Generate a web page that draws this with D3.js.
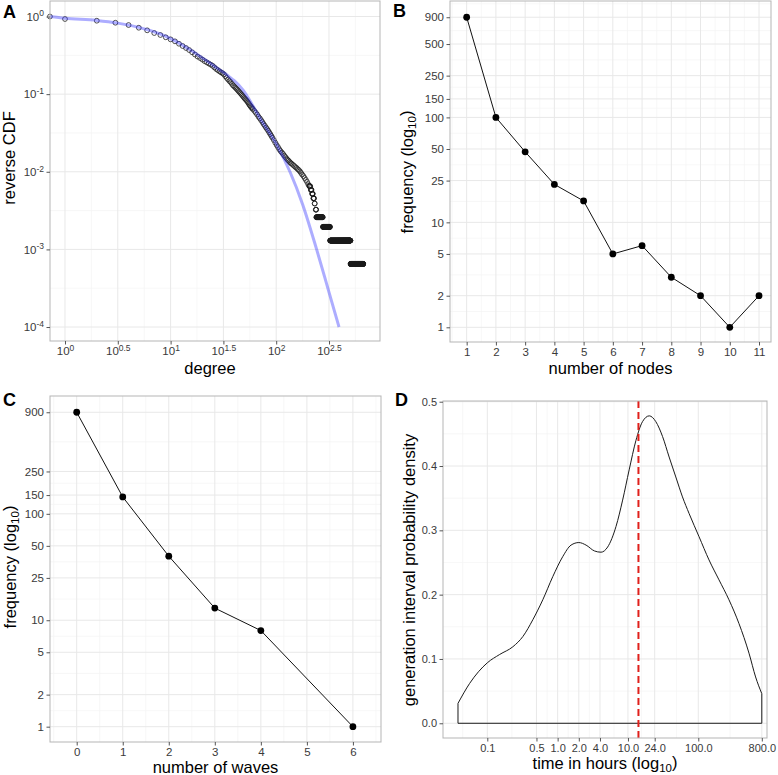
<!DOCTYPE html>
<html>
<head>
<meta charset="utf-8">
<script src="https://cdn.jsdelivr.net/npm/d3@7"></script>
<style>
  body { margin: 0; background: #fff; }
  text { font-family: "Liberation Sans", Arial, Helvetica, sans-serif; }
</style>
</head>
<body>
<div id="fig"></div>
<script>
// ---- panel A: reverse CDF of degree ----
const degK = [0.72, 1, 2, 3, 4, 5, 6, 7, 8, 9, 10, 11, 12, 13, 14, 15, 16,
  17, 18, 19, 20, 21, 22, 23, 24, 25, 26, 27, 28, 29, 30, 31, 32, 33, 34, 35, 36, 37, 38, 39,
  40, 41, 42, 43, 44, 45, 46, 47, 48, 49, 50, 51, 52, 53, 54, 55, 56, 57, 58, 59, 60,
  62, 64, 66, 68, 70, 72, 74, 76, 78, 80, 82, 84, 86, 88, 90, 92, 95, 98, 101, 104, 107, 110,
  113, 116, 119, 122, 125, 128, 131, 134, 137, 140, 144, 148, 152, 156, 160, 164, 168, 172,
  176, 181, 186, 191, 196, 201, 205];
const revCdf = [1.0, 0.929, 0.883, 0.832, 0.777, 0.717, 0.664, 0.613, 0.578, 0.54, 0.508, 0.479, 0.446, 0.417, 0.393, 0.37, 0.346,
  0.324, 0.305, 0.292, 0.279, 0.266, 0.257, 0.248, 0.240, 0.232, 0.221, 0.211, 0.204, 0.197, 0.191, 0.186, 0.180, 0.170, 0.162, 0.155, 0.148, 0.143, 0.136, 0.130,
  0.1259, 0.1216, 0.1175, 0.1135, 0.1096, 0.1059, 0.1023, 0.0989, 0.0955, 0.0923, 0.0891, 0.0865, 0.0839, 0.0813, 0.0782, 0.0753, 0.0724, 0.0703, 0.0681, 0.0661, 0.0643,
  0.061, 0.0578, 0.0547, 0.0513, 0.0488, 0.0462, 0.0437, 0.0412, 0.0392, 0.0372, 0.0355, 0.0339, 0.0321, 0.0305, 0.029, 0.0275, 0.0256, 0.0237, 0.0221, 0.0208, 0.0195, 0.0185,
  0.0177, 0.017, 0.0162, 0.0155, 0.0149, 0.0143, 0.0139, 0.0134, 0.013, 0.0127, 0.0123, 0.0119, 0.0115, 0.0112, 0.0108, 0.0105, 0.0101, 0.00966,
  0.00923, 0.00881, 0.00832, 0.00785, 0.00741, 0.00692, 0.00661];
// tail: runs of equal reverse CDF over consecutive degrees
const tailValue = [0.0065, 0.00584, 0.0052, 0.00455, 0.0039, 0.00325, 0.0026, 0.00195, 0.0013, 0.00065];
const tailFrom  = [207, 213, 219, 225, 231, 237, 240, 277, 324, 506];
const tailTo    = [210, 216, 222, 228, 232, 239, 276, 323, 505, 668];
// fitted curve
const fitDegree = [0.72, 1, 2, 3.16, 5, 7.94, 10, 15.8, 25.1, 31.6, 36.3, 39.8, 49, 60.7, 70.3, 100, 135, 178, 241.5, 316, 393.6];
const fitCdf = [1.0, 0.95, 0.891, 0.822, 0.724, 0.596, 0.519, 0.363, 0.237, 0.191, 0.166, 0.150, 0.111, 0.0692, 0.049,
  0.0229, 0.01, 0.0038, 0.001, 0.000282, 0.0001];
const degTickExp = [0, 0.5, 1, 1.5, 2, 2.5];
const cdfTickExp = [0, -1, -2, -3, -4];

// ---- panel B: cluster size ----
const nodesCount = [1, 2, 3, 4, 5, 6, 7, 8, 9, 10, 11];
const nodesFreq = [900, 100, 47, 23, 16, 5, 6, 3, 2, 1, 2];
const nodesFreqTicks = [1, 2, 5, 10, 25, 50, 100, 150, 250, 500, 900];

// ---- panel C: waves ----
const wavesCount = [0, 1, 2, 3, 4, 6];
const wavesFreq = [900, 144, 40, 13, 8, 1];
const wavesTicks = [0, 1, 2, 3, 4, 5, 6];
const wavesFreqTicks = [1, 2, 5, 10, 25, 50, 100, 150, 250, 900];

// ---- panel D: generation interval density ----
const genHours = [0.0383, 0.0561, 0.1, 0.15, 0.231, 0.321, 0.444, 0.615, 0.853, 1.18, 1.55, 2.0, 2.54, 3.33, 4.14,
  5.14, 6.76, 8.4, 10.4, 13.0, 16.1, 20.1, 24.9, 31.0, 38.5, 47.9, 59.6, 74.1, 102.6, 142, 197, 273, 379, 526, 653, 800];
const genDensity = [0.031, 0.062, 0.094, 0.107, 0.119, 0.135, 0.161, 0.192, 0.228, 0.259, 0.277, 0.281, 0.277, 0.268, 0.266,
  0.274, 0.306, 0.347, 0.394, 0.44, 0.469, 0.478, 0.469, 0.446, 0.414, 0.383, 0.352, 0.326, 0.29, 0.254, 0.223, 0.192, 0.155, 0.109, 0.072, 0.046];
const medianHours = 14.1;
const hourTicks = [0.1, 0.5, 1, 2, 4, 10, 24, 100, 800];
const hourTickLabels = ["0.1", "0.5", "1.0", "2.0", "4.0", "10.0", "24.0", "100.0", "800.0"];
const densityTicks = [0, 0.1, 0.2, 0.3, 0.4, 0.5];

const svg = d3.select("#fig").append("svg").attr("width", 778).attr("height", 775);

const tickCol = "#3a3a3a";

// minor breaks = midpoints between majors (in transformed space), like ggplot
function minorOf(scale, major, log) {
  const f = log ? Math.log10 : d => d;
  const inv = log ? t => Math.pow(10, t) : t => t;
  const [lo, hi] = d3.extent(scale.domain().map(f));
  const b = major.map(f);
  if (lo < b[0]) b.unshift(b[0] - (b[1] - b[0]));
  const n = b.length;
  if (hi > b[n - 1]) b.push(b[n - 1] + (b[n - 1] - b[n - 2]));
  const out = [];
  for (let i = 0; i < b.length - 1; i++) {
    const m = (b[i] + b[i + 1]) / 2;
    if (m > lo && m < hi) out.push(inv(m));
  }
  return out;
}

function panel(x, y, xMaj, yMaj, xLog, yLog) {
  const g = svg.append("g");
  const [xa, xb] = x.range(), [ya, yb] = y.range();
  const gg = g.append("g");
  gg.selectAll(".vmin").data(minorOf(x, xMaj, xLog)).join("line")
    .attr("x1", d => x(d)).attr("x2", d => x(d)).attr("y1", ya).attr("y2", yb)
    .attr("stroke", "#f3f3f3").attr("stroke-width", 0.7);
  gg.selectAll(".hmin").data(minorOf(y, yMaj, yLog)).join("line")
    .attr("y1", d => y(d)).attr("y2", d => y(d)).attr("x1", xa).attr("x2", xb)
    .attr("stroke", "#f3f3f3").attr("stroke-width", 0.7);
  gg.selectAll(".vmaj").data(xMaj).join("line")
    .attr("x1", d => x(d)).attr("x2", d => x(d)).attr("y1", ya).attr("y2", yb)
    .attr("stroke", "#e8e8e8").attr("stroke-width", 1);
  gg.selectAll(".hmaj").data(yMaj).join("line")
    .attr("y1", d => y(d)).attr("y2", d => y(d)).attr("x1", xa).attr("x2", xb)
    .attr("stroke", "#e8e8e8").attr("stroke-width", 1);
  g.data = g.append("g");
  g.frame = () => {
    g.append("rect").attr("x", xa).attr("y", yb).attr("width", xb - xa).attr("height", ya - yb)
      .attr("fill", "none").attr("stroke", "#b5b5b5").attr("stroke-width", 1);
  };
  g.axes = (xFmt, yFmt, fs = "11.5px") => {
    const ax = g.append("g").attr("transform", `translate(0,${ya})`)
      .call(d3.axisBottom(x).tickValues(xMaj).tickSize(3.5).tickPadding(2.8).tickFormat(xFmt));
    const ay = g.append("g").attr("transform", `translate(${xa},0)`)
      .call(d3.axisLeft(y).tickValues(yMaj).tickSize(3.5).tickPadding(2.5).tickFormat(yFmt));
    [ax, ay].forEach(a => {
      a.select(".domain").remove();
      a.attr("font-family", null).attr("font-size", null);
      a.selectAll(".tick line").attr("stroke", "#555");
      a.selectAll(".tick text").attr("fill", tickCol).style("font-size", fs);
    });
    return [ax, ay];
  };
  return g;
}

function title(x, y, rot, parts) {
  const t = svg.append("text").attr("text-anchor", "middle").style("font-size", "16.5px").attr("fill", "#000")
    .attr("transform", `translate(${x},${y})` + (rot ? " rotate(-90)" : ""));
  parts.forEach(p => {
    const s = t.append("tspan").text(p.t);
    if (p.sub) s.attr("dy", "0.3em").style("font-size", "11.5px");
    if (p.back) s.attr("dy", "-0.3em");
  });
}
const freqTitle = [{ t: "frequency (log" }, { t: "10", sub: true }, { t: ")", back: true }];

function letter(s, x, y) {
  svg.append("text").attr("x", x).attr("y", y).style("font-size", "18px").style("font-weight", "bold").text(s);
}

function superLabels(axis, exps) {
  axis.selectAll(".tick text").each(function (d, i) {
    const t = d3.select(this).text(null);
    t.append("tspan").text("10");
    t.append("tspan").attr("dy", "-0.5em").style("font-size", "8.5px").text(String(exps[i]));
  });
}

// ---------- A ----------
{
  const x = d3.scaleLog().domain([Math.pow(10, -0.142), Math.pow(10, 2.983)]).range([50, 380]);
  const y = d3.scaleLog().domain([Math.pow(10, -4.18), Math.pow(10, 0.2)]).range([341, 1]);
  const xMaj = degTickExp.map(e => Math.pow(10, e));
  const yMaj = cdfTickExp.map(e => Math.pow(10, e));
  const p = panel(x, y, xMaj, yMaj, true, true);
  const pts = degK.map((d, i) => [d, revCdf[i]]);
  tailValue.forEach((v, i) => {
    for (let k = tailFrom[i]; k <= tailTo[i]; k++) pts.push([k, v]);
  });
  p.data.selectAll("circle").data(pts).join("circle")
    .attr("cx", d => x(d[0])).attr("cy", d => y(d[1])).attr("r", 2.4)
    .attr("fill", "none").attr("stroke", "#1a1a1a").attr("stroke-width", 0.75);
  p.data.append("path")
    .datum(fitDegree.map((d, i) => [d, fitCdf[i]]))
    .attr("d", d3.line().x(d => x(d[0])).y(d => y(d[1])).curve(d3.curveMonotoneX))
    .attr("fill", "none").attr("stroke", "#3333ff").attr("stroke-opacity", 0.4).attr("stroke-width", 3);
  p.frame();
  const [ax, ay] = p.axes(() => "", () => "");
  superLabels(ax, degTickExp);
  superLabels(ay, cdfTickExp);
  title(210, 374, false, [{ t: "degree" }]);
  title(15, 158, true, [{ t: "reverse CDF" }]);
  letter("A", 3, 18);
}

// ---------- B ----------
{
  const x = d3.scaleLinear().domain([0.43, 11.41]).range([450, 771]);
  const y = d3.scaleLog().domain([Math.pow(10, -0.14), Math.pow(10, 3.109)]).range([342, 1]);
  const p = panel(x, y, nodesCount, nodesFreqTicks, false, true);
  const pts = nodesCount.map((d, i) => [d, nodesFreq[i]]);
  p.data.append("path").datum(pts)
    .attr("d", d3.line().x(d => x(d[0])).y(d => y(d[1])))
    .attr("fill", "none").attr("stroke", "#111").attr("stroke-width", 1);
  p.data.selectAll("circle").data(pts).join("circle")
    .attr("cx", d => x(d[0])).attr("cy", d => y(d[1])).attr("r", 3.4).attr("fill", "#000");
  p.frame();
  p.axes(d3.format("d"), d3.format("d"));
  title(610.5, 374, false, [{ t: "number of nodes" }]);
  title(413, 172, true, freqTitle);
  letter("B", 393, 17);
}

// ---------- C ----------
{
  const x = d3.scaleLinear().domain([-0.58, 6.61]).range([50, 381]);
  const y = d3.scaleLog().domain([Math.pow(10, -0.144), Math.pow(10, 3.107)]).range([742, 396]);
  const p = panel(x, y, wavesTicks, wavesFreqTicks, false, true);
  const pts = wavesCount.map((d, i) => [d, wavesFreq[i]]);
  p.data.append("path").datum(pts)
    .attr("d", d3.line().x(d => x(d[0])).y(d => y(d[1])))
    .attr("fill", "none").attr("stroke", "#111").attr("stroke-width", 1);
  p.data.selectAll("circle").data(pts).join("circle")
    .attr("cx", d => x(d[0])).attr("cy", d => y(d[1])).attr("r", 3.4).attr("fill", "#000");
  p.frame();
  p.axes(d3.format("d"), d3.format("d"));
  title(215.5, 773, false, [{ t: "number of waves" }]);
  title(16, 567, true, freqTitle);
  letter("C", 3, 406);
}

// ---------- D ----------
{
  const x = d3.scaleLog().domain([Math.pow(10, -1.63), Math.pow(10, 2.977)]).range([443, 767]);
  const y = d3.scaleLinear().domain([-0.0229, 0.5011]).range([738, 401]);
  const p = panel(x, y, hourTicks, densityTicks, true, false);
  const n = genHours.length;
  p.data.append("path")
    .datum(genHours.map((h, i) => [h, genDensity[i]]))
    .attr("d", d3.line().x(d => x(d[0])).y(d => y(d[1])).curve(d3.curveMonotoneX))
    .attr("fill", "none").attr("stroke", "#1a1a1a").attr("stroke-width", 1);
  p.data.append("path")
    .datum([[genHours[0], genDensity[0]], [genHours[0], 0], [genHours[n - 1], 0], [genHours[n - 1], genDensity[n - 1]]])
    .attr("d", d3.line().x(d => x(d[0])).y(d => y(d[1])))
    .attr("fill", "none").attr("stroke", "#1a1a1a").attr("stroke-width", 1);
  p.data.append("line")
    .attr("x1", x(medianHours)).attr("x2", x(medianHours)).attr("y1", y.range()[0]).attr("y2", y.range()[1])
    .attr("stroke", "#e0201b").attr("stroke-width", 2).attr("stroke-dasharray", "7,4");
  p.frame();
  p.axes((d, i) => hourTickLabels[i], d3.format(".1f"), "11px");
  title(605, 769, false, [{ t: "time in hours (log" }, { t: "10", sub: true }, { t: ")", back: true }]);
  title(415, 570, true, [{ t: "generation interval probability density" }]);
  letter("D", 395, 406);
}
</script>
</body>
</html>
